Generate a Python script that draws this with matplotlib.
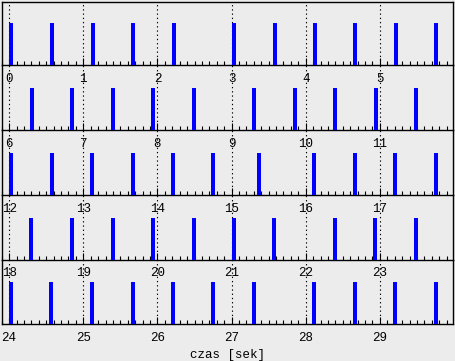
"""
Beat times plotted as strips of 6 seconds each
"""
import matplotlib.pyplot as plt

# beat onsets [sek]
beat_times = [
    0.00, 0.55, 1.10, 1.64, 2.19, 3.00, 3.56, 4.10, 4.64, 5.19, 5.73,
    6.28, 6.82, 7.37, 7.91, 8.46, 9.27, 9.83, 10.37, 10.92, 11.46,
    12.00, 12.55, 13.09, 13.64, 14.18, 14.72, 15.34, 16.08, 16.64, 17.18, 17.73,
    18.27, 18.82, 19.37, 19.91, 20.46, 21.00, 21.54, 22.37, 22.91, 23.46,
    24.00, 24.54, 25.09, 25.64, 26.18, 26.72, 27.27, 28.08, 28.64, 29.18, 29.73,
]
row_starts = [0, 6, 12, 18, 24]
row_len = 6
x_label = 'czas [sek]'

BG = '#ececec'
W, H = 455, 361
FONT = 'Liberation Mono'

fig = plt.figure(figsize=(W / 100, H / 100), dpi=100, facecolor=BG)

# pixel rows of each strip (top -> bottom)
tops = [1.7, 65, 130, 195, 259.5]
bottoms = [65, 130, 195, 259.5, 324]
left_px, right_px = 1.7, 453.3
bar_px = 42

for i, start in enumerate(row_starts):
    top, bottom = tops[i], bottoms[i]
    ax = fig.add_axes([left_px / W, 1 - bottom / H,
                       (right_px - left_px) / W, (bottom - top) / H])
    ax.set_facecolor('none')

    ts = [t for t in beat_times if start <= t < start + row_len]
    ax.bar(ts, [1] * len(ts), width=0.055, align='edge',
           color='#0000ff', linewidth=0, zorder=3)

    ax.set_xlim(start - 0.1, start + 5.99)
    ax.set_ylim(0, (bottom - top) / bar_px)

    # dotted second markers
    for s in range(start, start + row_len):
        ax.axvline(s, color='black', lw=0.8, ls=(0, (1.2, 2.6)), zorder=1)

    ax.set_xticks(range(start, start + row_len))
    ax.set_xticklabels([str(s) for s in range(start, start + row_len)],
                       fontfamily=FONT, fontsize=9)
    ax.set_xticks([start + k * 0.1 for k in range(-1, 60)], minor=True)
    ax.tick_params(axis='x', which='major', direction='in', length=5,
                   width=0.8, pad=5.5, colors='black')
    ax.tick_params(axis='x', which='minor', direction='in', length=3,
                   width=0.8)
    ax.set_yticks([])

    for side in ['left', 'right', 'bottom', 'top']:
        ax.spines[side].set_linewidth(1.0)
        ax.spines[side].set_color('black')
    if i > 0:
        ax.spines['top'].set_visible(False)

fig.text(227 / W, 1 - 355 / H, x_label, ha='center', va='center',
         fontfamily=FONT, fontsize=9)

fig.savefig('out.png', dpi=100, facecolor=BG)
plt.close()
